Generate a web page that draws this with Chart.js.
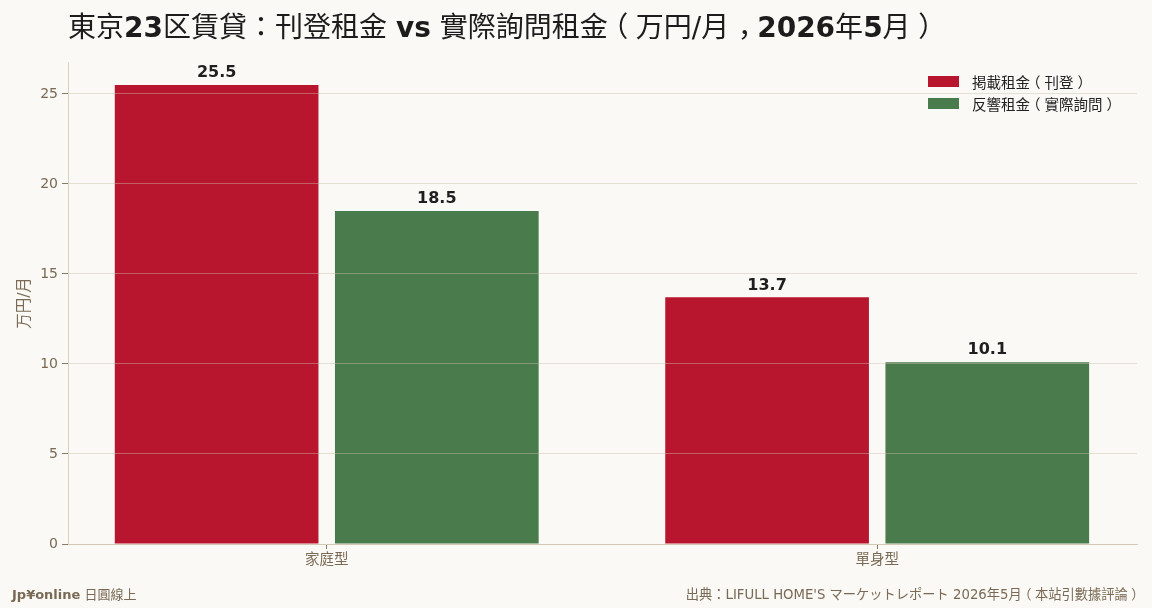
<!DOCTYPE html>
<html lang="zh-Hant"><head><meta charset="utf-8">
<script src="https://cdn.jsdelivr.net/npm/chart.js@4"></script>
<style>
html,body{margin:0;padding:0;background:#faf9f5;}
#wrap{position:relative;width:1152px;height:608px;background:#faf9f5;font-family:"DejaVu Sans","Noto Sans CJK TC",sans-serif;}
#title{position:absolute;left:68px;top:5px;font-size:28px;color:#1c1c1c;white-space:nowrap;}
#title b{font-weight:bold;}
.p{display:inline-block;width:1em;position:relative;}
.po{left:-0.27em;}
.pc{left:0.27em;}
.pm{left:0.05em;top:0.3em;}
#cv{position:absolute;left:0;top:0;}
#legend{position:absolute;left:928px;top:70px;font-size:14.5px;color:#222;}
.li{display:flex;align-items:center;height:22px;white-space:nowrap;}
.sw{width:31px;height:11px;margin-right:13px;flex:none;}
#fl{position:absolute;left:12px;top:584px;font-size:13px;color:#7a6a55;}
#fr{position:absolute;right:11px;top:584px;font-size:13.25px;color:#7a6a55;white-space:nowrap;}
</style></head>
<body>
<div id="wrap">
<canvas id="cv" width="1152" height="608"></canvas>
<div id="title"></div>
<div id="legend"></div>
<div id="fl"><b>Jp¥online</b> 日圓線上</div>
<div id="fr"></div>
</div>
<script>
const categories = ["家庭型", "單身型"];
const seriesNames = ["掲載租金（刊登）", "反響租金（實際詢問）"];
const listedRent = [25.5, 13.7];
const inquiryRent = [18.5, 10.1];
const seriesColors = ["#b8152e", "#4a7b4c"];
const yTicks = [0, 5, 10, 15, 20, 25];
const titleText = "東京23区賃貸：刊登租金 vs 實際詢問租金（万円/月，2026年5月）";
const sourceText = "出典：LIFULL HOME'S マーケットレポート 2026年5月（本站引數據評論）";

// full-width punctuation in centred cells; bold Latin runs in the title
const pcls = {"（": "p po", "）": "p pc", "，": "p pm", "：": "p"};
function punct(s) {
  return s.replace(/[：（），]/g, m => '<span class="' + pcls[m] + '">' + m + '</span>');
}
function titleHtml(s) {
  return punct(s).replace(/([0-9]+|vs)(?![^<]*>)/g, '<b>$1</b>');
}
document.getElementById('title').innerHTML = titleHtml(titleText);
document.getElementById('fr').innerHTML = punct(sourceText);

const lg = document.getElementById('legend');
seriesNames.forEach((n, i) => {
  const d = document.createElement('div'); d.className = 'li';
  d.innerHTML = '<span class="sw" style="background:' + seriesColors[i] + '"></span><span>' + punct(n) + '</span>';
  lg.appendChild(d);
});

const toPts = arr => arr.map((v, i) => ({x: i, y: v}));

const labelPlugin = {
  id: 'vals',
  afterDatasetsDraw(chart) {
    const ctx = chart.ctx;
    ctx.save();
    ctx.font = 'bold 16px "DejaVu Sans", sans-serif';
    ctx.fillStyle = '#1f1f1f';
    ctx.textAlign = 'center';
    ctx.textBaseline = 'bottom';
    chart.data.datasets.forEach((ds, di) => {
      chart.getDatasetMeta(di).data.forEach((el, i) => {
        ctx.fillText(ds.data[i].y.toFixed(1), el.x, el.y - 4);
      });
    });
    ctx.restore();
  }
};

new Chart(document.getElementById('cv'), {
  type: 'bar',
  data: {
    datasets: [
      {label: seriesNames[0], data: toPts(listedRent), backgroundColor: seriesColors[0]},
      {label: seriesNames[1], data: toPts(inquiryRent), backgroundColor: seriesColors[1]}
    ]
  },
  options: {
    responsive: false,
    animation: false,
    devicePixelRatio: 1,
    layout: {padding: {top: 62, right: 15, left: 0, bottom: 0}},
    datasets: {bar: {categoryPercentage: 0.8, barPercentage: 0.925}},
    plugins: {legend: {display: false}, tooltip: {enabled: false}, title: {display: false}},
    scales: {
      x: {
        type: 'linear',
        offset: false,
        min: -0.47, max: 1.472,
        afterBuildTicks(s) { s.ticks = categories.map((c, i) => ({value: i})); },
        afterFit(s) { s.height = 64; },
        ticks: {
          callback: (v) => categories[v] ?? '',
          color: '#7a6a55',
          font: {size: 14.5, family: '"DejaVu Sans","Noto Sans CJK TC",sans-serif'},
          padding: 3,
          maxRotation: 0
        },
        grid: {display: true, offset: false, drawOnChartArea: false, drawTicks: true, tickLength: 5, tickColor: '#8a7b66'},
        border: {display: true, color: '#d9d1c1', width: 1}
      },
      y: {
        min: 0, max: 25.5 * 1.05,
        afterBuildTicks(s) { s.ticks = yTicks.map(v => ({value: v})); },
        afterFit(s) { s.width = 68; },
        ticks: {
          color: '#7a6a55',
          font: {size: 14, family: '"DejaVu Sans",sans-serif'},
          padding: 4
        },
        grid: {display: true, color: 'rgba(200,190,168,0.45)', z: 1, drawTicks: true, tickLength: 6, tickColor: '#8a7b66'},
        border: {display: true, color: '#d9d1c1', width: 1, z: 1},
        title: {
          display: true, text: '万円/月', color: '#7a6a55',
          font: {size: 15.5, family: '"DejaVu Sans","Noto Sans CJK TC",sans-serif'},
          padding: {top: 16, bottom: 0}
        }
      }
    }
  },
  plugins: [labelPlugin]
});
</script>
</body></html>
